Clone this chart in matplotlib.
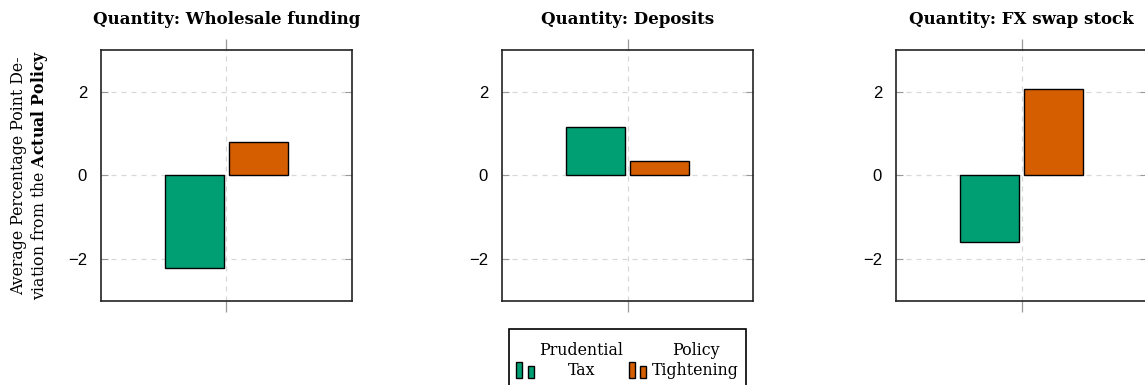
import matplotlib
matplotlib.use("Agg")
import matplotlib.pyplot as plt
from matplotlib.patches import Rectangle
from matplotlib.legend_handler import HandlerBase

# Average percentage-point deviation from the actual policy
panels = ["Wholesale funding", "Deposits", "FX swap stock"]
series = ["Prudential\nTax", "Policy\nTightening"]
prudential_tax = [-2.22, 1.15, -1.60]
policy_tightening = [0.81, 0.34, 2.07]
yticks = [-2, 0, 2]

colors = ["#009E73", "#D55E00"]
serif = ["DejaVu Serif"]
sans = ["Liberation Sans", "DejaVu Sans"]

plt.rcParams["mathtext.fontset"] = "custom"
plt.rcParams["mathtext.rm"] = "DejaVu Serif"
plt.rcParams["mathtext.bf"] = "DejaVu Serif:bold"

W, H = 1145, 385
DPI = 100
PX = 72 / DPI  # points per pixel
fig = plt.figure(figsize=(W / DPI, H / DPI), dpi=DPI)

lefts = [101, 502, 896]
ax_w, ax_top, ax_bot = 251, 50, 300.7
bar_w = 0.47
offset = 0.255

axes = []
for i, name in enumerate(panels):
    ax = fig.add_axes([lefts[i] / W, (H - ax_bot) / H, ax_w / W, (ax_bot - ax_top) / H])
    axes.append(ax)
    vals = [prudential_tax[i], policy_tightening[i]]
    for j, v in enumerate(vals):
        ax.bar(0 + (j * 2 - 1) * offset, v, width=bar_w, color=colors[j],
               edgecolor="black", linewidth=1.0, zorder=3)
    ax.set_xlim(-1, 1)
    ax.set_ylim(-3, 3)
    ax.set_xticks([0])
    ax.set_xticklabels([])
    ax.set_yticks(yticks)
    ax.set_yticklabels([f"{t}" if t >= 0 else f"\u2212{-t}" for t in yticks],
                       family=sans, fontsize=12)
    ax.grid(True, linestyle=(0, (4, 4)), color="#d8d8d8", linewidth=0.9, zorder=0)
    ax.tick_params(axis="y", direction="in", length=5, color="#999999",
                   left=True, right=True, pad=10)
    ax.tick_params(axis="x", direction="out", length=8, color="#999999",
                   top=True, bottom=True, width=0.9)
    for s in ax.spines.values():
        s.set_linewidth(1.2)
        s.set_color("#222222")
    ax.set_title(f"Quantity: {name}", family=serif, fontweight="bold",
                 fontsize=12, pad=19)

axes[0].set_ylabel("Average Percentage Point De-\nviation from the $\\mathbf{Actual\\ Policy}$",
                   family=serif, fontsize=11.3, labelpad=13, linespacing=1.15)


class TwoBarHandler(HandlerBase):
    def __init__(self, color):
        super().__init__()
        self.color = color

    def create_artists(self, legend, orig_handle, xdescent, ydescent, width,
                       height, fontsize, trans):
        bw = 6 * PX
        base = -ydescent - 11 * PX
        r1 = Rectangle((-xdescent, base), bw, 16 * PX,
                       facecolor=self.color, edgecolor="black", linewidth=1.0,
                       transform=trans)
        r2 = Rectangle((-xdescent + 11.5 * PX, base), bw, 12 * PX,
                       facecolor=self.color, edgecolor="black", linewidth=1.0,
                       transform=trans)
        return [r1, r2]


fs = 11.4
fpx = fs / PX  # font size in pixels
handles = [Rectangle((0, 0), 1, 1, color=c) for c in colors]
leg = fig.legend(handles, series, ncol=2, loc="upper left",
                 bbox_to_anchor=(516 / W, (H - 342) / H), borderaxespad=0,
                 handler_map={handles[0]: TwoBarHandler(colors[0]),
                              handles[1]: TwoBarHandler(colors[1])},
                 prop={"family": serif, "size": fs},
                 frameon=False,
                 handlelength=17.5 / fpx, handletextpad=6 / fpx,
                 columnspacing=5 / fpx, borderpad=0, labelspacing=0.2)
for t in leg.get_texts():
    t.set_multialignment("center")
    t.set_linespacing(1.2)

# legend box, running off the lower edge of the figure
fig.patches.append(Rectangle((509 / W, -20 / H), 237 / W, (H - 329 + 20) / H,
                             transform=fig.transFigure, fill=False,
                             edgecolor="black", linewidth=1.2))

fig.savefig("out.png", dpi=DPI)
